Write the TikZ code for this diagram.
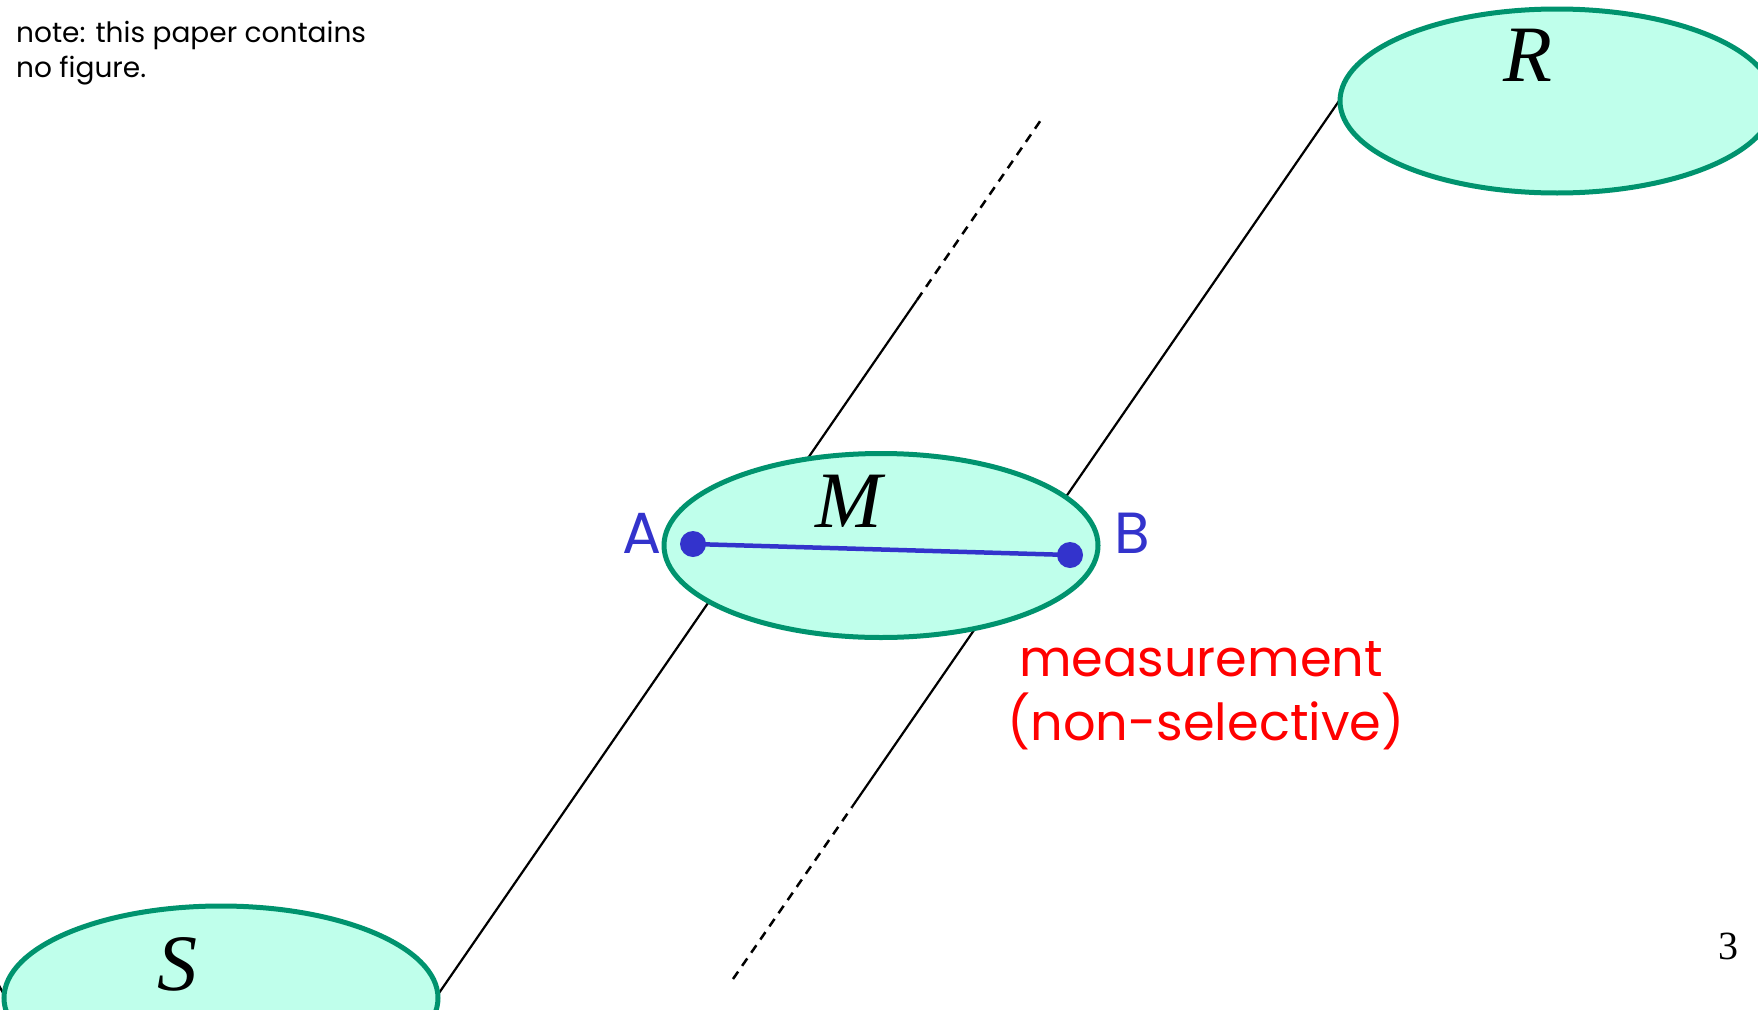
\documentclass[tikz,border=0pt]{standalone}
\usepackage{fontspec}
\setmainfont{Liberation Serif}
\newfontfamily\comic{Poppins}
\usetikzlibrary{shapes.geometric}
\definecolor{mint}{HTML}{BFFFEB}
\definecolor{teal}{HTML}{00936E}
\definecolor{dotblue}{HTML}{3333CC}
\definecolor{redtxt}{HTML}{FF0000}
\tikzset{
  blob/.style={ellipse, draw=teal, fill=mint, line width=5pt, minimum width=434pt, minimum height=184pt, inner sep=0pt},
  biglabel/.style={anchor=base, inner sep=0pt, font=\fontsize{80}{96}\selectfont\itshape},
  world/.style={line width=2.2pt, black},
  worlddash/.style={line width=2.5pt, black, dash pattern=on 9pt off 7pt},
  enddot/.style={circle, fill=dotblue, minimum size=26pt, inner sep=0pt},
  ablabel/.style={anchor=base, inner sep=0pt, text=dotblue, font=\comic\fontsize{58}{70}\selectfont},
  redlabel/.style={anchor=base, inner sep=0pt, text=redtxt, font=\comic\fontsize{51}{62}\selectfont},
  notelabel/.style={anchor=base west, inner sep=0pt, font=\comic\fontsize{28}{34}\selectfont}
}
\begin{document}
\begin{tikzpicture}[x=1pt,y=-1pt]
\useasboundingbox (0,0) rectangle (1758,1009);
\clip (0,0) rectangle (1758,1009);
% world lines
\coordinate (s1) at (420.4,1020);
\coordinate (d1) at (917,300);
\coordinate (e1) at (1043,117);
\coordinate (e2) at (733,979);
\coordinate (d2) at (852,807);
\coordinate (r2) at (1350,85);
\coordinate (sl1) at (15,1015);
\coordinate (sl2) at (-5,978);
\draw[world] (s1) -- (d1);
\draw[worlddash] (d1) -- (e1);
\draw[worlddash] (e2) -- (d2);
\draw[world] (d2) -- (r2);
\draw[world] (sl1) -- (sl2);
% regions
\node[blob] (S) at (221,998) {};
\node[blob] (M) at (881,545.5) {};
\node[blob] (R) at (1557,101) {};
\node[biglabel] (Slab) at (177,990) {S};
\node[biglabel] (Mlab) at (849,527) {M};
\node[biglabel] (Rlab) at (1528,81) {R};
% measurement segment
\node[enddot] (A) at (693,544) {};
\node[enddot] (B) at (1070,555) {};
\draw[dotblue, line width=4.5pt] (A.center) -- (B.center);
\node[ablabel] (Alab) at (642,553) {A};
\node[ablabel] (Blab) at (1132,553) {B};
% texts
\node[redlabel] (meas) at (1201,676) {measurement};
\node[redlabel] (nonsel) at (1206,740) {(non-selective)};
\node[notelabel] (note1) at (16,42) {note: this paper contains};
\node[notelabel] (note2) at (16,77) {no figure.};
\node[anchor=base, inner sep=0pt, font=\fontsize{40}{48}\selectfont] (pnum) at (1728,959) {3};
\end{tikzpicture}
\end{document}
